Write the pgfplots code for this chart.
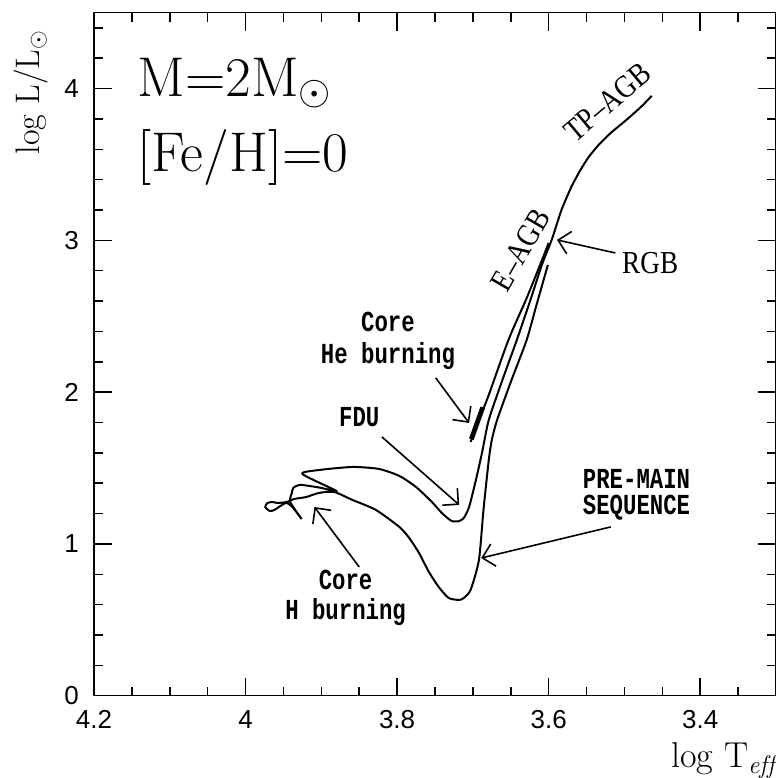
\documentclass[border=0pt]{standalone}
\usepackage{fontspec}
\usepackage{pgfplots}
\pgfplotsset{compat=1.18}
\usetikzlibrary{arrows.meta}
\newfontfamily\tickfont{Liberation Sans}
\newfontfamily\annfont[FakeStretch=0.77]{Liberation Mono}
\newfontfamily\labfont[FakeStretch=0.85]{Liberation Serif}
\begin{document}
\begin{tikzpicture}
\useasboundingbox (-47pt,-41.15pt) rectangle (341pt,347.85pt);
\begin{axis}[
  scale only axis, width=341pt, height=341.5pt,
  x dir=reverse, xmin=3.3, xmax=4.2, ymin=0, ymax=4.5,
  xtick={3.4,3.6,3.8,4,4.2}, ytick={0,1,2,3,4},
  minor xtick={3.35,3.45,3.5,3.55,3.65,3.7,3.75,3.85,3.9,3.95,4.05,4.1,4.15},
  minor ytick={0.2,0.4,0.6,0.8,1.2,1.4,1.6,1.8,2.2,2.4,2.6,2.8,3.2,3.4,3.6,3.8,4.2,4.4},
  tick align=inside, major tick length=9pt, minor tick length=4.5pt,
  tick style={black, line width=0.75pt},
  axis line style={line width=0.75pt},
  tick label style={font=\tickfont\fontsize{13}{13}\selectfont},
  /pgf/number format/assume math mode=true,
  xticklabel style={yshift=-4pt},
  yticklabel style={xshift=-4pt},
  xlabel={log T$_{\mathit{eff}}$},
  ylabel={log L/L$_\odot$},
  xlabel style={at={(axis description cs:1,-0.105)}, anchor=base east, font=\fontsize{18}{18}\selectfont, inner sep=0pt},
  ylabel style={at={(axis description cs:-0.092,0.884)}, anchor=center, font=\fontsize{17}{17}\selectfont},
  clip=false,
]
% main track: PMS -> ZAMS -> MS -> RGB -> AGB
\addplot[black, line width=1pt, smooth, tension=0.4] coordinates {
(3.601,2.838) (3.616,2.575) (3.629,2.344) (3.649,2.080) (3.668,1.817) (3.675,1.685)
(3.679,1.553) (3.686,1.224) (3.692,0.894) (3.703,0.697) (3.712,0.644) (3.718,0.631)
(3.732,0.644) (3.745,0.716) (3.758,0.815) (3.771,0.940) (3.784,1.039) (3.797,1.112)
(3.828,1.224) (3.859,1.290) (3.883,1.342)
(3.903,1.336) (3.920,1.309) (3.936,1.296) (3.946,1.276) (3.958,1.270) (3.964,1.276)
(3.971,1.270) (3.974,1.243) (3.968,1.217) (3.962,1.224) (3.954,1.250) (3.946,1.270)
(3.938,1.243) (3.926,1.164) (3.941,1.276) (3.939,1.335) (3.937,1.369) (3.929,1.389)
(3.916,1.382) (3.900,1.369) (3.880,1.349)
(3.925,1.461)
(3.903,1.487) (3.859,1.507) (3.824,1.494) (3.797,1.448) (3.775,1.375) (3.754,1.276)
(3.741,1.204) (3.728,1.151) (3.718,1.151) (3.712,1.171) (3.705,1.243) (3.696,1.421)
(3.688,1.599) (3.679,1.817)
(3.661,2.080) (3.642,2.344) (3.624,2.608) (3.609,2.838) (3.596,3.003) (3.583,3.201)
(3.570,3.352) (3.558,3.464) (3.547,3.550) (3.534,3.629) (3.518,3.708) (3.499,3.787)
(3.478,3.880) (3.464,3.952)
};
% core He burning + E-AGB
\addplot[black, line width=1pt, smooth] coordinates {
(3.703,1.672) (3.692,1.817) (3.679,1.982) (3.653,2.344) (3.630,2.608) (3.613,2.817) (3.600,2.983)
};
\addplot[black, line width=2.4pt] coordinates {(3.702,1.690) (3.687,1.900)};
% annotations
\tikzset{arr/.style={line width=0.8pt, -{Straight Barb[length=5.7pt,width=11.4pt,line width=0.8pt]}}}
\draw[arr] (axis cs:3.749,2.094) -- (axis cs:3.705,1.797);
\draw[arr] (axis cs:3.820,1.705) -- (axis cs:3.718,1.257);
\draw[arr] (axis cs:3.850,0.848) -- (axis cs:3.909,1.243);
\draw[arr] (axis cs:3.518,1.112) -- (axis cs:3.689,0.907);
\draw[arr] (axis cs:3.512,2.917) -- (axis cs:3.589,3.003);
\node[font=\annfont\bfseries\fontsize{14.5}{16}\selectfont, align=center] at (axis cs:3.812,2.336) {Core\\He burning};
\node[font=\annfont\bfseries\fontsize{14.5}{16}\selectfont] at (axis cs:3.850,1.837) {FDU};
\node[font=\annfont\bfseries\fontsize{14.5}{15}\selectfont, align=center] at (axis cs:3.868,0.644) {Core\\H burning};
\node[font=\annfont\bfseries\fontsize{14.5}{13}\selectfont, align=center] at (axis cs:3.484,1.323) {PRE-MAIN\\SEQUENCE};
\node[font=\labfont\fontsize{16}{16}\selectfont] at (axis cs:3.466,2.851) {RGB};
\node[font=\labfont\fontsize{16}{16}\selectfont, rotate=60] at (axis cs:3.637,2.937) {E–AGB};
\node[font=\labfont\fontsize{16}{16}\selectfont, rotate=40] at (axis cs:3.522,3.910) {TP–AGB};
\node[anchor=base west, inner sep=0pt, font=\fontsize{28}{28}\selectfont] at (axis cs:4.143,3.947) {M=2M$_\odot$};
\node[anchor=base west, inner sep=0pt, font=\fontsize{28}{28}\selectfont] at (axis cs:4.143,3.453) {[Fe/H]=0};
\end{axis}
\end{tikzpicture}
\end{document}
